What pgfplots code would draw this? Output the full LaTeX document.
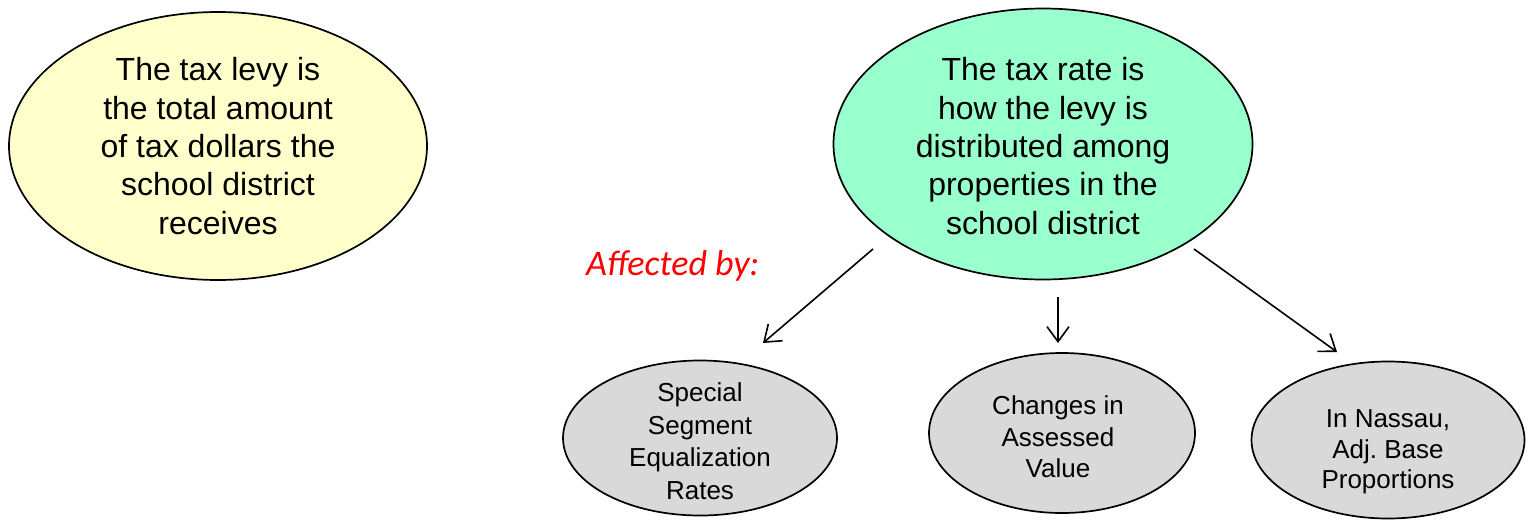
\documentclass[border=0pt]{standalone}
\usepackage{pgfplots}
\pgfplotsset{compat=1.18}
\usepackage{fontspec}
\setmainfont{Liberation Sans}
\newfontfamily\calibri{Carlito}
\usetikzlibrary{shapes.geometric,arrows.meta}
\definecolor{levyyellow}{HTML}{FFFFCC}
\definecolor{rategreen}{HTML}{99FFCC}
\definecolor{factorgrey}{HTML}{D9D9D9}
\frenchspacing
\begin{document}
\begin{tikzpicture}
\begin{axis}[
  width=1528pt, height=522pt, scale only axis,
  xmin=0, xmax=1528, ymin=0, ymax=522, y dir=reverse,
  hide axis, clip=false,
]
% frame (invisible) to fix the bounding box
\addplot[draw=none] coordinates {(0,0) (1528,522)};
% big ellipses
\node[ellipse, draw=black, line width=1.7pt, fill=levyyellow, minimum width=418pt, minimum height=268pt, inner sep=0pt] at (axis cs:218,146) {};
\node[ellipse, draw=black, line width=1.7pt, fill=rategreen, minimum width=419pt, minimum height=271pt, inner sep=0pt] at (axis cs:1043,144) {};
% small ellipses
\node[ellipse, draw=black, line width=1.7pt, fill=factorgrey, minimum width=274pt, minimum height=155pt, inner sep=0pt] at (axis cs:700,438) {};
\node[ellipse, draw=black, line width=1.7pt, fill=factorgrey, minimum width=266pt, minimum height=160pt, inner sep=0pt] at (axis cs:1062,433) {};
\node[ellipse, draw=black, line width=1.7pt, fill=factorgrey, minimum width=273pt, minimum height=157pt, inner sep=0pt] at (axis cs:1388,440) {};
% texts
\node[align=center, font=\fontsize{32}{38.3}\selectfont, inner sep=0pt] at (axis cs:218,146)
  {The tax levy is\\the total amount\\of tax dollars the\\school district\\receives};
\node[align=center, font=\fontsize{32}{38.3}\selectfont, inner sep=0pt] at (axis cs:1043,146)
  {The tax rate is\\how the levy is\\distributed among\\properties in the\\school district};
\node[align=center, font=\fontsize{26}{32.5}\selectfont, inner sep=0pt] at (axis cs:700,441)
  {Special\\Segment\\Equalization\\Rates};
\node[align=center, font=\fontsize{26}{31.5}\selectfont, inner sep=0pt] at (axis cs:1058,437)
  {Changes in\\Assessed\\Value};
\node[align=center, font=\fontsize{26}{30.5}\selectfont, inner sep=0pt] at (axis cs:1388,452)
  {In Nassau,\\Adj. Base\\Proportions};
\node[anchor=base west, inner sep=0pt, text=red, font=\calibri\itshape\fontsize{36}{40}\selectfont] at (axis cs:586,275) {Affected by:};
% arrows
\draw[line width=1.6pt, -{Straight Barb[length=15pt,width=22pt,line width=1.6pt]}] (axis cs:873,249) -- (axis cs:763,343);
\draw[line width=1.6pt, -{Straight Barb[length=15pt,width=22pt,line width=1.6pt]}] (axis cs:1058,297) -- (axis cs:1058,343);
\draw[line width=1.6pt, -{Straight Barb[length=15pt,width=22pt,line width=1.6pt]}] (axis cs:1194,249) -- (axis cs:1337,352);
\end{axis}
\end{tikzpicture}
\end{document}
